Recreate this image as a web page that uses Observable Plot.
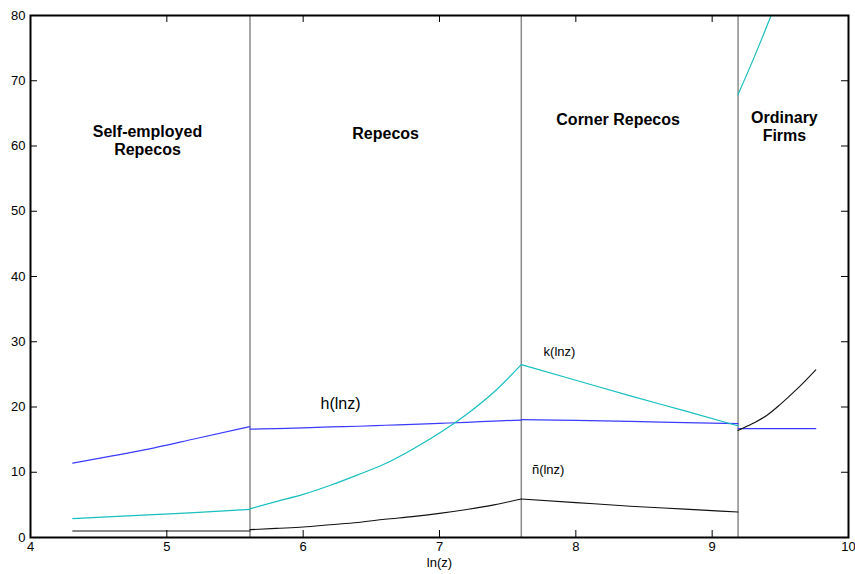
<!DOCTYPE html>
<html>
<head>
<meta charset="utf-8">
<script src="https://cdn.jsdelivr.net/npm/d3@7"></script>
<script src="https://cdn.jsdelivr.net/npm/@observablehq/plot@0.6"></script>
<style>
  html, body { margin: 0; padding: 0; background: #fff; }
  #chart { width: 855px; height: 574px; }
</style>
</head>
<body>
<div id="chart"></div>
<script>
// ---- data ----
// segment x-grids (ln z)
const xSelf    = [4.31, 4.6, 4.9, 5.2, 5.61];
const xRepecos = [5.61, 5.8, 6.0, 6.2, 6.4, 6.6, 6.8, 7.0, 7.2, 7.4, 7.6];
const xCorner  = [7.6, 8.0, 8.4, 8.8, 9.19];
const xOrd     = [9.19, 9.3, 9.4, 9.5, 9.625, 9.76];
const xOrdK    = [9.19, 9.3, 9.4, 9.5];

// h(lnz)
const hSelf    = [11.4, 12.5, 13.7, 15.1, 17.0];
const hRepecos = [16.6, 16.7, 16.8, 16.95, 17.05, 17.2, 17.35, 17.5, 17.65, 17.85, 18.0];
const hCorner  = [18.05, 17.95, 17.8, 17.6, 17.45];
const hOrd     = [16.7, 16.7, 16.7, 16.7, 16.7, 16.7];

// k(lnz)
const kSelf    = [2.9, 3.2, 3.5, 3.8, 4.3];
const kRepecos = [4.4, 5.5, 6.6, 8.0, 9.6, 11.3, 13.5, 16.0, 18.9, 22.3, 26.5];
const kCorner  = [26.5, 24.1, 21.7, 19.4, 17.1];
const kOrd     = [67.9, 73.2, 78.3, 83.5];

// ñ(lnz)
const nSelf    = [1.0, 1.0, 1.0, 1.0, 1.0];
const nRepecos = [1.2, 1.4, 1.6, 1.95, 2.3, 2.8, 3.2, 3.7, 4.3, 5.0, 5.9];
const nCorner  = [5.9, 5.35, 4.8, 4.35, 3.9];
const nOrd     = [16.4, 17.5, 18.7, 20.4, 22.8, 25.7];

// regime boundaries and labels
const boundaries = [5.61, 7.6, 9.19];
const regimeNames = ["Self-employed\nRepecos", "Repecos", "Corner Repecos", "Ordinary\nFirms"];
const curveNames = ["h(lnz)", "k(lnz)", "ñ(lnz)"];

const xTicks = [4, 5, 6, 7, 8, 9, 10];
const yTicks = [0, 10, 20, 30, 40, 50, 60, 70, 80];
const xLabel = "ln(z)";

// ---- build table ----
function seg(xs, ys, series, id) {
  return xs.map((x, i) => ({x, y: ys[i], series, seg: series + id}));
}
const rows = [
  ...seg(xSelf, hSelf, "h", 1), ...seg(xRepecos, hRepecos, "h", 2),
  ...seg(xCorner, hCorner, "h", 3), ...seg(xOrd, hOrd, "h", 4),
  ...seg(xSelf, kSelf, "k", 1), ...seg(xRepecos, kRepecos, "k", 2),
  ...seg(xCorner, kCorner, "k", 3), ...seg(xOrdK, kOrd, "k", 4),
  ...seg(xSelf, nSelf, "n", 1), ...seg(xRepecos, nRepecos, "n", 2),
  ...seg(xCorner, nCorner, "n", 3), ...seg(xOrd, nOrd, "n", 4)
];

const W = 855, H = 574;
const mL = 30, mR = 7, mT = 15, mB = 37;
const innerW = W - mL - mR, innerH = H - mT - mB;
const tickLen = 7;

const chart = Plot.plot({
  width: W,
  height: H,
  marginLeft: mL,
  marginRight: mR,
  marginTop: mT,
  marginBottom: mB,
  x: {domain: [4, 10]},
  y: {domain: [0, 80]},
  style: {fontFamily: "'Liberation Sans', Arial, sans-serif", fontSize: "13px", background: "white", color: "black", overflow: "visible"},
  marks: [
    Plot.ruleX(boundaries, {stroke: "#8a8a8a", strokeWidth: 1.5}),
    Plot.line(rows.filter(d => d.series === "h"), {x: "x", y: "y", z: "seg", stroke: "#3b3bff", strokeWidth: 1.2, curve: "monotone-x"}),
    Plot.line(rows.filter(d => d.series === "k"), {x: "x", y: "y", z: "seg", stroke: "#17bfbf", strokeWidth: 1.2, curve: "monotone-x", clip: true}),
    Plot.line(rows.filter(d => d.series === "n"), {x: "x", y: "y", z: "seg", stroke: "#111", strokeWidth: 1.1, curve: "monotone-x"}),
    // inward ticks on all four sides
    Plot.ruleX(xTicks, {insetTop: innerH - tickLen, stroke: "black"}),
    Plot.ruleX(xTicks, {insetBottom: innerH - tickLen, stroke: "black"}),
    Plot.ruleY(yTicks, {insetRight: innerW - tickLen, stroke: "black"}),
    Plot.ruleY(yTicks, {insetLeft: innerW - tickLen, stroke: "black"}),
    Plot.frame({stroke: "black", strokeWidth: 2}),
    Plot.axisX({ticks: xTicks, tickFormat: d3.format("d"), tickSize: 0, tickPadding: 4, label: null, fontSize: 13}),
    Plot.axisY({ticks: yTicks, tickFormat: d3.format("d"), tickSize: 0, tickPadding: 5, label: null, fontSize: 13}),
    Plot.text([xLabel], {frameAnchor: "bottom", dy: 29, fontSize: 13}),
    // regime labels
    Plot.text([regimeNames[0]], {x: 4.858, y: 60.9, fontSize: 16, fontWeight: "bold", lineHeight: 1.125}),
    Plot.text([regimeNames[1]], {x: 6.605, y: 61.9, fontSize: 16, fontWeight: "bold"}),
    Plot.text([regimeNames[2]], {x: 8.31, y: 64.0, fontSize: 16, fontWeight: "bold"}),
    Plot.text([regimeNames[3]], {x: 9.53, y: 63.0, fontSize: 16, fontWeight: "bold", lineHeight: 1.125}),
    // curve labels
    Plot.text([curveNames[0]], {x: 6.274, y: 20.5, fontSize: 16}),
    Plot.text([curveNames[1]], {x: 7.88, y: 28.5, fontSize: 13}),
    Plot.text([curveNames[2]], {x: 7.797, y: 10.4, fontSize: 13})
  ]
});
document.getElementById("chart").appendChild(chart);
</script>
</body>
</html>
